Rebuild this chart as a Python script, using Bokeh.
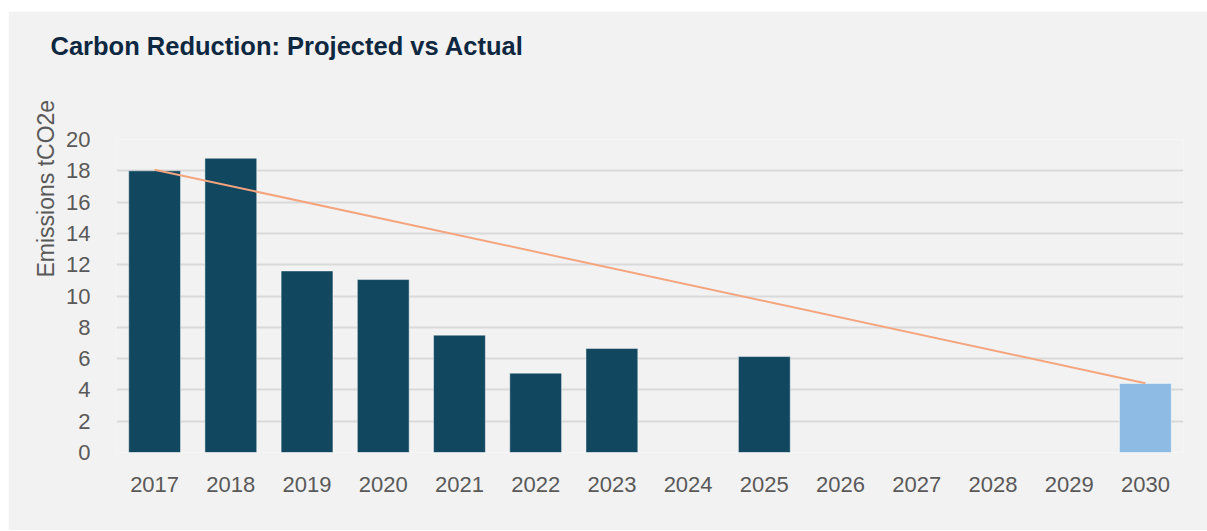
from bokeh.plotting import figure
from bokeh.models import Range1d, FactorRange, Title
from bokeh.embed import file_html
from bokeh.resources import INLINE

years = ["2017", "2018", "2019", "2020", "2021", "2022", "2023", "2024",
         "2025", "2026", "2027", "2028", "2029", "2030"]
actual_years = ["2017", "2018", "2019", "2020", "2021", "2022", "2023", "2025"]
actual_values = [18.0, 18.8, 11.6, 11.05, 7.5, 5.07, 6.65, 6.13]
target_years = ["2030"]
target_values = [4.41]
projected_years = ["2017", "2030"]
projected_values = [18.07, 4.43]
y_ticks = [0, 2, 4, 6, 8, 10, 12, 14, 16, 18, 20]
title_text = "Carbon Reduction: Projected vs Actual"
y_label_text = "Emissions tCO2e"

BG = "#f2f2f2"
FONT = "Liberation Sans"

p = figure(width=1199, height=519, x_range=FactorRange(*years),
           y_range=Range1d(0, 20), output_backend="svg", toolbar_location=None,
           min_border_left=108, min_border_right=24, min_border_top=128,
           min_border_bottom=78)
p.margin = (11, 0, 0, 8)
p.background_fill_color = BG
p.border_fill_color = BG
p.outline_line_color = None

# visible title (placed outside the spacer below it)
p.title.text = title_text
p.title.text_font = FONT
p.title.text_font_size = "25.5px"
p.title.text_font_style = "bold"
p.title.text_color = "#0e2841"
p.title.align = "left"
p.title.offset = -66
p.title.standoff = 0

# empty spacer title, nearest to the frame
p.add_layout(Title(text=" ", text_font_size="1px", standoff=77), "above")

p.add_layout(Title(text=y_label_text, text_font=FONT, text_font_size="23px",
                   text_font_style="normal", text_color="#595959",
                   align="left", offset=175), "left")

p.vbar(x=actual_years, top=actual_values, width=0.68, fill_color="#11475f",
       line_color="#ffffff", line_alpha=0.45, line_width=1)
p.vbar(x=target_years, top=target_values, width=0.68, fill_color="#8dbbe3",
       line_color="#ffffff", line_alpha=0.45, line_width=1)
p.line(x=projected_years, y=projected_values, line_color="#f4a57e", line_width=2)

p.xgrid.grid_line_color = None
p.ygrid.grid_line_color = "#d9d9d9"
p.ygrid.grid_line_width = 2
p.yaxis.ticker = y_ticks

for ax in (p.xaxis[0], p.yaxis[0]):
    ax.axis_line_color = None
    ax.major_tick_line_color = None
    ax.minor_tick_line_color = None
    ax.major_label_text_font = FONT
    ax.major_label_text_font_size = "22px"
    ax.major_label_text_color = "#595959"

p.xaxis.major_label_standoff = 18
p.yaxis.major_label_standoff = 20

open("out.html", "w").write(file_html(p, INLINE))
